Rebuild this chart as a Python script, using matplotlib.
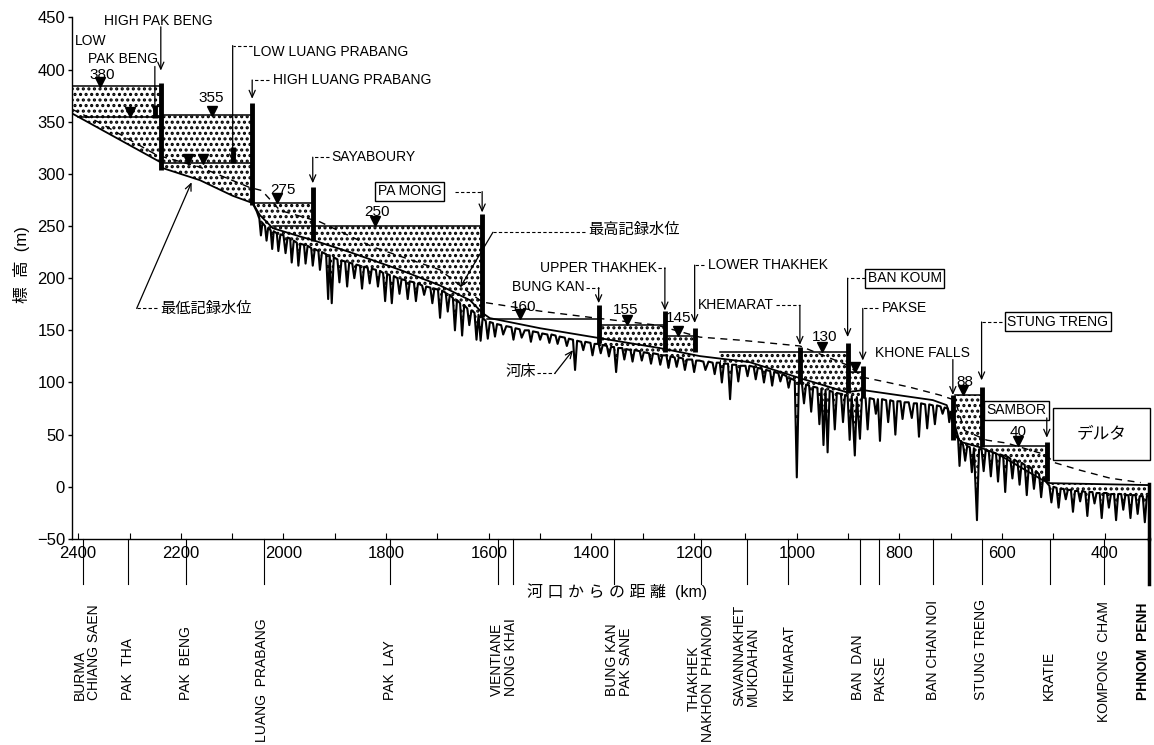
import numpy as np
import matplotlib
matplotlib.use('Agg')
import matplotlib.pyplot as plt
from matplotlib.patches import Rectangle

plt.rcParams['font.family'] = ['Liberation Sans', 'Noto Sans CJK JP', 'DejaVu Sans']
plt.rcParams['hatch.linewidth'] = 1.5
plt.rcParams['axes.unicode_minus'] = True

# river bed (km from mouth, elevation m) - jagged profile
bed_km = [2060, 2052, 2047, 2044, 2041, 2036, 2033, 2030, 2025, 2022, 2019, 2013, 2010, 2006, 2000,
          1996, 1992, 1987, 1984, 1980, 1974, 1971, 1967, 1960, 1957, 1953, 1946, 1943, 1939, 1932,
          1929, 1925, 1917, 1913, 1910, 1906, 1902, 1895, 1891, 1887, 1880, 1876, 1872, 1866, 1862,
          1858, 1851, 1847, 1843, 1836, 1832, 1828, 1820, 1816, 1812, 1806, 1802, 1798, 1793, 1789,
          1785, 1778, 1774, 1770, 1762, 1758, 1754, 1746, 1742, 1738, 1730, 1726, 1722, 1714, 1710,
          1706, 1699, 1695, 1691, 1684, 1680, 1676, 1670, 1666, 1662, 1656, 1652, 1648, 1642, 1638,
          1634, 1628, 1624, 1620, 1616, 1612,
          1606, 1602, 1598, 1592, 1588, 1584, 1576, 1572, 1566, 1556, 1552, 1548, 1540, 1536, 1530,
          1522, 1518, 1514, 1504, 1500, 1496, 1486, 1482, 1478, 1470, 1466, 1462, 1452, 1448, 1444,
          1436, 1432, 1428, 1420, 1416, 1412, 1402, 1398, 1394, 1386, 1382, 1378, 1370, 1366, 1362,
          1356, 1352, 1348, 1340, 1336, 1332, 1324, 1320, 1316, 1306, 1302, 1298, 1288, 1284, 1280,
          1270, 1266, 1262, 1254, 1250, 1246, 1238, 1234, 1230, 1222, 1218, 1214, 1204, 1200, 1196,
          1190,
          1182, 1178, 1172, 1164, 1160, 1156, 1150, 1146, 1142, 1134, 1130, 1126, 1118, 1114, 1110,
          1100, 1096, 1092, 1084, 1080, 1076, 1068, 1064, 1060, 1052, 1048, 1044, 1036, 1032, 1028,
          1020, 1016, 1012, 1004, 1000, 996, 990, 986, 982, 976, 972, 968, 960, 956, 952,
          948, 944, 940, 936, 930, 926, 922, 914, 910, 906, 901, 897, 893, 887, 883,
          877, 873, 866, 862, 858, 850, 846, 842, 838, 834, 826, 822, 818, 812, 808,
          804, 798, 794, 790, 782, 776, 772, 766, 762, 758, 750, 746, 742, 735, 731,
          727, 720, 716, 712, 706, 703, 700, 695,
          690, 686, 683, 680, 676, 672, 668, 663, 659, 655, 649, 645, 640, 636, 632,
          626, 622, 618, 612, 608, 604, 598, 594, 590, 584, 580, 576, 570, 566, 562,
          556, 552, 548, 542, 538, 534, 528, 524, 520, 516, 513,
          508, 504, 500, 494, 490, 486, 480, 476, 472, 466, 462, 458, 452, 448, 444,
          438, 434, 430, 424, 420, 416, 410, 406, 402, 396, 392, 388, 382, 378, 374,
          368, 364, 360, 354, 350, 346, 340, 336, 332, 326, 322, 318, 312]
bed_elev = [272, 264, 257, 241, 253, 250, 236, 248, 246, 228, 245, 243, 226, 242, 241,
            224, 239, 238, 215, 236, 234, 212, 233, 232, 214, 231, 229, 212, 228, 226,
            208, 225, 223, 180, 222, 176, 220, 218, 196, 217, 216, 192, 215, 214, 200,
            213, 212, 190, 211, 210, 195, 209, 208, 192, 207, 205, 178, 204, 203, 176,
            202, 200, 185, 199, 198, 180, 197, 196, 178, 195, 193, 184, 192, 191, 176,
            190, 189, 162, 188, 186, 168, 184, 181, 150, 179, 176, 145, 174, 171, 155,
            169, 167, 141, 165, 140, 162,
            159, 142, 158, 157, 144, 156, 155, 146, 154, 153, 141, 152, 151, 143, 150,
            150, 139, 149, 148, 141, 147, 146, 138, 146, 145, 137, 144, 143, 135, 142,
            141, 112, 140, 139, 131, 139, 138, 126, 137, 137, 128, 136, 135, 125, 134,
            134, 110, 133, 133, 122, 132, 131, 120, 131, 130, 121, 129, 128, 118, 128,
            127, 117, 126, 126, 114, 125, 124, 115, 124, 123, 112, 122, 122, 110, 121,
            121,
            120, 112, 120, 119, 108, 119, 119, 100, 118, 118, 84, 117, 117, 101, 116,
            116, 106, 116, 115, 103, 114, 113, 100, 112, 111, 97, 110, 109, 101, 108,
            106, 95, 104, 102, 9, 100, 99, 80, 98, 97, 72, 96, 95, 60, 94,
            40, 93, 33, 92, 91, 55, 90, 89, 62, 88, 87, 45, 87, 30, 86,
            46, 86, 85, 55, 85, 84, 70, 84, 44, 84, 83, 62, 83, 82, 50,
            82, 82, 65, 81, 81, 66, 80, 80, 48, 80, 79, 56, 79, 78, 60,
            78, 77, 70, 76, 75, 62, 72, 66,
            55, 48, 20, 44, 40, 25, 39, 38, 14, 37, -32, 36, 36, 15, 35,
            34, 10, 33, 32, 5, 31, 30, -5, 29, 27, 8, 26, 24, 2, 23,
            21, -8, 20, 17, -2, 15, 12, -10, 9, 6, 4,
            1, -15, 0, -1, -20, -2, -2, -12, -3, -3, -24, -4, -4, -14, -4,
            -5, -28, -5, -5, -16, -6, -6, -30, -6, -6, -20, -7, -7, -32, -7,
            -7, -22, -8, -8, -30, -8, -8, -26, -9, -9, -34, -9, -9]

# lowest recorded water level (solid)
low_km = [2412, 2239, 2235, 2163, 2099, 2060, 2046, 2021, 1968, 1943, 1871, 1773, 1695, 1637,
          1612, 1598, 1500, 1384, 1267, 1189, 1092, 994, 903, 871, 735, 708, 698, 689, 679,
          644, 605, 521, 507, 312]
low_elev = [358, 311, 305.5, 294, 279, 272, 260.5, 248, 240, 236.5, 225, 208, 193, 179,
            166.5, 161.7, 152, 142.5, 133, 125.3, 119.5, 104.2, 90.7, 92.7, 83.1, 78.3, 64, 47.6, 42.8,
            38, 30.4, 6.4, 3.5, 1.6]

# highest recorded water level (dashed)
high_km = [2412, 2358, 2247, 2163, 2066, 2042, 2007, 1929, 1826, 1695, 1643, 1612, 1500, 1390,
           1273, 1189, 1111, 994, 901, 871, 825, 780, 721, 692, 673, 630, 591, 513, 501, 449, 390, 330]
high_elev = [362, 349, 318, 306.5, 287, 284, 265, 254, 230, 208, 188, 177, 168.4, 161.7,
             155, 143.5, 140.6, 135, 116.6, 105, 100.3, 95.5, 87.9, 83, 54, 44.7, 41.9, 30.4, 23.6, 16, 8.3, 4]

# reservoir water levels: level, upstream km, downstream km, stippled
pool_level = [384, 355, 356, 310, 272, 250, 160.8, 155, 145, 129.4, 110, 88, 39]
pool_up = [2412, 2400, 2239, 2235, 2061, 2021, 1604, 1386, 1257, 1150, 901, 692, 640]
pool_down = [2239, 2241, 2061, 2061, 1943, 1613, 1386, 1257, 1199, 901, 871.5, 640, 513]
pool_stipple = [True, True, True, True, True, True, False, True, True, True, True, True, True]

# dams
dam_km = [2239, 2250, 2099, 2061, 1943, 1613, 1386, 1257, 1199, 994, 901, 871.5, 696, 640, 513]
dam_top = [387, 366, 326, 368, 287, 262, 174, 169, 152, 134, 138, 116, 88, 96, 43]
dam_bottom = [304, 354, 310, 270, 236, 163, 138, 129, 129, 99, 90, 86, 45, 38, 6]

# water level markers
mark_km = [2358, 2299, 2140, 2186, 2157, 2013, 1822, 1540, 1331, 1232, 951, 887, 677, 570]
mark_elev = [384, 355, 356, 310, 310, 272, 250, 160.8, 155, 145, 129.4, 110, 88, 39]

# towns along the river
tick_km = [2391, 2303, 2190, 2038, 1793, 1582, 1553, 1357, 1187, 1097, 1018, 877, 840, 735,
           640, 507, 402, 314]
town_labels = ['BURMA\nCHIANG SAEN', 'PAK  THA', 'PAK  BENG', 'LUANG  PRABANG', 'PAK  LAY',
               'VIENTIANE\nNONG KHAI', 'BUNG KAN\nPAK SANE', 'THAKHEK\nNAKHON  PHANOM',
               'SAVANNAKHET\nMUKDAHAN', 'KHEMARAT', 'BAN  DAN', 'PAKSE', 'BAN CHAN NOI',
               'STUNG TRENG', 'KRATIE', 'KOMPONG  CHAM', 'PHNOM  PENH']
town_label_km = [2383, 2303, 2190, 2042, 1793, 1571, 1347, 1187, 1099, 1016, 881, 838, 735,
                 642, 509, 402, 326]

fig = plt.figure(figsize=(11.54, 7.45), dpi=100)
ax = fig.add_axes([0.0624, 0.2766, 0.9341, 0.70])
ax.set_xlim(2412, 312)
ax.set_ylim(-50, 450)

# stipple under reservoirs and in the delta
grid = np.linspace(312, 2412, 8000)
top = np.full_like(grid, np.nan)
for lvl, up, dn, st in zip(pool_level, pool_up, pool_down, pool_stipple):
    if st:
        m = (grid <= up) & (grid >= dn)
        top[m] = np.fmax(top[m], lvl)
low_i = np.interp(grid, low_km[::-1], low_elev[::-1])
bed_i = np.interp(grid, bed_km[::-1], bed_elev[::-1])
m = grid <= 513
top[m] = np.fmax(top[m], low_i[m])
bottom = np.where(grid > 2060, low_i, bed_i)
ax.fill_between(grid, bottom, top, where=top > bottom, interpolate=True,
                facecolor='white', edgecolor='black', hatch='...', linewidth=0, zorder=1)

# lines
ax.plot(high_km, high_elev, color='black', lw=1.0, ls=(0, (5, 4)), zorder=2)
ax.plot(low_km, low_elev, color='black', lw=1.3, zorder=3)
ax.plot(bed_km, bed_elev, color='black', lw=1.5, zorder=3)
for lvl, up, dn in zip(pool_level, pool_up, pool_down):
    ax.plot([up, dn], [lvl, lvl], color='black', lw=1.1, zorder=3)
for k, t, b in zip(dam_km, dam_top, dam_bottom):
    ax.plot([k, k], [b, t], color='black', lw=3.5, solid_capstyle='butt', zorder=4)
ax.plot(mark_km, np.array(mark_elev) + 4.5, 'v', color='black', ms=7, zorder=5)

# axes styling
for s in ['top', 'right']:
    ax.spines[s].set_visible(False)
ax.spines['left'].set_linewidth(1.0)
ax.spines['bottom'].set_linewidth(1.0)
ax.set_yticks(np.arange(-50, 451, 50))
ax.set_xticks(np.arange(400, 2401, 200))
ax.set_xticks(np.arange(400, 2401, 100), minor=True)
ax.tick_params(axis='y', direction='out', length=3, width=1, pad=2, labelsize=12)
ax.tick_params(axis='x', which='both', direction='in', length=4, width=0.8, pad=5, labelsize=12)

# town ticks below the axis
for k in tick_km:
    lw = 2.5 if k == 314 else 0.8
    ax.plot([k, k], [-50, -93], color='black', lw=lw, clip_on=False, zorder=4)
ax.plot([314, 314], [3, -50], color='black', lw=2.5, clip_on=False, zorder=4)
label_bottom = {'LUANG  PRABANG': 742, 'THAKHEK\nNAKHON  PHANOM': 742, 'KOMPONG  CHAM': 722,
                'SAVANNAKHET\nMUKDAHAN': 706, 'BUNG KAN\nPAK SANE': 696, 'VIENTIANE\nNONG KHAI': 696}
for k, lab in zip(town_label_km, town_labels):
    py = label_bottom.get(lab, 700)
    ax.text(k, (538.9 - py) / 521.5, lab, transform=ax.get_xaxis_transform(), rotation=90,
            ha='center', va='bottom', fontsize=10, linespacing=1.0,
            multialignment='center' if 'THAKHEK' in lab else 'left',
            fontweight='bold' if 'PHNOM  PENH' in lab else 'normal')

fig.text(617 / 1154, 1 - 592 / 745, '河 口 か ら の 距 離  (km)', ha='center', va='center',
         fontsize=11.5)
fig.text(22 / 1154, 1 - 265 / 745, '標  高  (m)', ha='center', va='center', rotation=90,
         fontsize=12)


def leader(xs, y, xd, ytip, dashed=True):
    ax.plot([xs, xd], [y, y], color='black', lw=0.8, ls=(0, (3, 2)) if dashed else '-', zorder=5)
    ax.annotate('', xy=(xd, ytip), xytext=(xd, y),
                arrowprops=dict(arrowstyle='->,head_length=0.5,head_width=0.22', lw=0.9,
                                shrinkA=0, shrinkB=0, color='black'), zorder=5)


def arrow(x0, y0, x1, y1):
    ax.annotate('', xy=(x1, y1), xytext=(x0, y0),
                arrowprops=dict(arrowstyle='->,head_length=0.5,head_width=0.22', lw=0.9,
                                shrinkA=0, shrinkB=0, color='black'), zorder=5)


fs = 10
box = dict(boxstyle='square,pad=0.18', fc='white', ec='black', lw=1.0)
ax.text(2244, 447, 'HIGH PAK BENG', ha='center', va='center', fontsize=fs)
arrow(2239, 441, 2239, 399)
ax.text(2406, 427, 'LOW', ha='left', va='center', fontsize=fs)
ax.text(2381, 410, 'PAK BENG', ha='left', va='center', fontsize=fs)
arrow(2250.6, 403, 2250.6, 358)
ax.text(2060, 417, 'LOW LUANG PRABANG', ha='left', va='center', fontsize=fs)
leader(2062, 423, 2099, 311)
ax.text(2021, 390, 'HIGH LUANG PRABANG', ha='left', va='center', fontsize=fs)
leader(2028, 390, 2061, 372)
ax.text(1906, 316, 'SAYABOURY', ha='left', va='center', fontsize=fs)
leader(1912, 316, 1943, 291)
ax.text(1754, 283.5, 'PA MONG', ha='center', va='center', fontsize=fs, bbox=box)
leader(1666, 283, 1613, 263)
ax.text(1407, 246, '最高記録水位', ha='left', va='center', fontsize=11)
ax.plot([1413, 1592], [244, 244], color='black', lw=0.8, ls=(0, (3, 2)), zorder=5)
arrow(1592, 244, 1656, 191)
ax.text(2241, 171, '最低記録水位', ha='left', va='center', fontsize=11)
ax.plot([2247, 2286], [171, 171], color='black', lw=0.8, ls=(0, (3, 2)), zorder=5)
arrow(2286, 171, 2179, 292)
ax.text(1538, 110, '河床', ha='center', va='center', fontsize=11)
ax.plot([1506, 1471], [109, 109], color='black', lw=0.8, ls=(0, (3, 2)), zorder=5)
arrow(1471, 109, 1436, 131)
ax.text(1413, 191.4, 'BUNG KAN', ha='right', va='center', fontsize=fs)
leader(1410, 191, 1386, 176)
ax.text(1273, 209.6, 'UPPER THAKHEK', ha='right', va='center', fontsize=fs)
leader(1270, 210, 1257, 169)
ax.text(1173, 212.5, 'LOWER THAKHEK', ha='left', va='center', fontsize=fs)
leader(1180, 212.5, 1199, 157)
ax.text(1193, 174, 'KHEMARAT', ha='left', va='center', fontsize=fs)
leader(1041, 174, 994, 136)
ax.text(790, 200, 'BAN KOUM', ha='center', va='center', fontsize=fs, bbox=box)
leader(868, 200, 901, 143.5)
ax.text(834.5, 171, 'PAKSE', ha='left', va='center', fontsize=fs)
leader(842, 171, 871.5, 121)
ax.text(848, 128, 'KHONE FALLS', ha='left', va='center', fontsize=fs)
arrow(696, 122, 696, 88)
ax.text(491.6, 158, 'STUNG TRENG', ha='center', va='center', fontsize=fs, bbox=box)
leader(600, 158, 640, 102)
ax.text(571.5, 73.5, 'SAMBOR', ha='center', va='center', fontsize=fs, bbox=box)
arrow(513, 66, 513, 47)
ax.add_patch(Rectangle((312, 25.6), 189, 49.8, fc='white', ec='black', lw=1.0, zorder=5,
                       clip_on=False))
ax.text(406, 50.5, 'デルタ', ha='center', va='center', fontsize=12, zorder=6)

# level labels
for k, y, s in [(2354, 395, '380'), (2140, 372.6, '355'), (2001, 284.4, '275'),
                (1818, 263.3, '250'), (1532, 172.3, '160'), (1333, 169.4, '155'),
                (1230, 161.7, '145'), (945.5, 143.5, '130'), (673, 100.3, '88'),
                (569.5, 52.4, '40')]:
    ax.text(k, y, s, ha='center', va='center', fontsize=11)

fig.savefig('out.png', dpi=100)
